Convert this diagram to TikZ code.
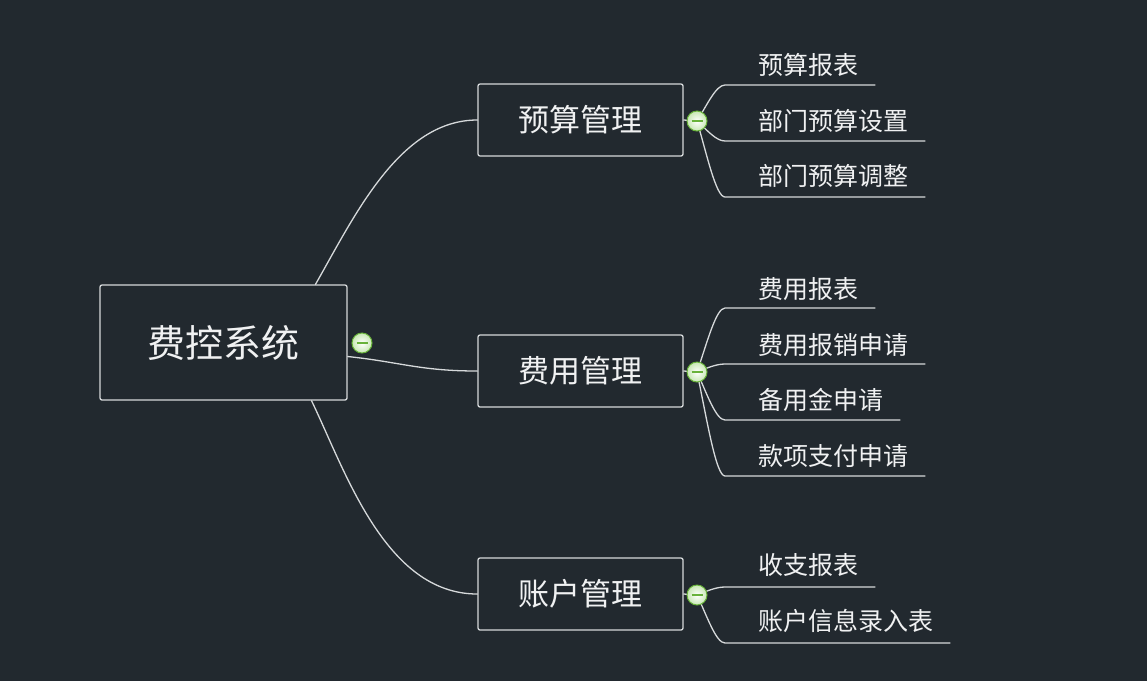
\documentclass[tikz,border=0pt]{standalone}
\usepackage{fontspec}
\newfontfamily\cjk{Noto Sans CJK SC}
\definecolor{bgc}{RGB}{34,41,47}
\definecolor{ln}{RGB}{214,217,219}
\definecolor{tx}{RGB}{240,241,242}
\definecolor{btngreen}{RGB}{104,178,58}
\definecolor{btnmid}{RGB}{200,232,180}
\pgfdeclarelayer{back}
\pgfdeclarelayer{lines}
\pgfsetlayers{back,lines,main}
\begin{document}
\begin{tikzpicture}[x=1pt,y=-1pt,
  conn/.style={draw=ln, line width=1.3pt, line cap=round, line join=round},
  rootbox/.style={draw=ln, fill=bgc, line width=1.3pt, rounded corners=2pt,
    minimum width=247pt, minimum height=115pt, inner sep=0pt, text=tx,
    font=\cjk\fontsize{38}{42}\selectfont},
  branchbox/.style={draw=ln, fill=bgc, line width=1.3pt, rounded corners=2pt,
    minimum width=205pt, minimum height=72pt, inner sep=0pt, text=tx,
    font=\cjk\fontsize{31}{34}\selectfont},
  leaf/.style={anchor=west, inner sep=0pt, text=tx,
    font=\cjk\fontsize{25}{28}\selectfont},
  toggle/.style={circle, draw=btngreen, line width=1pt, minimum size=20pt,
    inner sep=0pt, inner color=white, outer color=btnmid,
    path picture={\draw[btngreen, line width=1.2pt]
      ([xshift=-5.5pt]path picture bounding box.center) --
      ([xshift=5.5pt]path picture bounding box.center);}}
]
\begin{pgfonlayer}{back}
  \fill[bgc] (0,0) rectangle (1147,681);
\end{pgfonlayer}
\useasboundingbox (0,0) rectangle (1147,681);

% main nodes
\node[rootbox] (root) at (223.5,342.5) {费控系统};
\node[toggle] (t0) at (362,343) {};

\node[branchbox] (b1) at (580.5,120) {预算管理};
\node[branchbox] (b2) at (580.5,371) {费用管理};
\node[branchbox] (b3) at (580.5,594) {账户管理};

\node[toggle] (t1) at (697,121) {};
\node[toggle] (t2) at (697,372) {};
\node[toggle] (t3) at (697,595) {};

% leaves
\node[leaf] (l1) at (758,65) {预算报表};
\node[leaf] (l2) at (758,121) {部门预算设置};
\node[leaf] (l3) at (758,176) {部门预算调整};
\node[leaf] (l4) at (758,289) {费用报表};
\node[leaf] (l5) at (758,345) {费用报销申请};
\node[leaf] (l6) at (758,400) {备用金申请};
\node[leaf] (l7) at (758,456) {款项支付申请};
\node[leaf] (l8) at (758,565) {收支报表};
\node[leaf] (l9) at (758,621) {账户信息录入表};

\coordinate (l1s) at (725,85);  \coordinate (l1e) at (875,85);
\coordinate (l2s) at (725,141); \coordinate (l2e) at (925,141);
\coordinate (l3s) at (725,197); \coordinate (l3e) at (925,197);
\coordinate (l4s) at (725,308); \coordinate (l4e) at (875,308);
\coordinate (l5s) at (725,364); \coordinate (l5e) at (925,364);
\coordinate (l6s) at (725,420); \coordinate (l6e) at (900,420);
\coordinate (l7s) at (725,476); \coordinate (l7e) at (925,476);
\coordinate (l8s) at (725,587); \coordinate (l8e) at (875,587);
\coordinate (l9s) at (725,643); \coordinate (l9e) at (950,643);

\begin{pgfonlayer}{lines}
  % root to branches
  \draw[conn] ([xshift=92pt]root.north) .. controls (355,215) and (400,120) .. (b1.west);
  \draw[conn] ([yshift=-14pt]root.east) .. controls (400,362) and (420,371) .. (b2.west);
  \draw[conn] ([xshift=88pt]root.south) .. controls (345,470) and (385,594) .. (b3.west);
  % branch to toggle
  \draw[conn] (b1.east) -- (t1.center);
  \draw[conn] (b2.east) -- (t2.center);
  \draw[conn] (b3.east) -- (t3.center);
  % toggle to leaves
  \draw[conn] (t1.center) .. controls (707,105) and (716,85)  .. (l1s) -- (l1e);
  \draw[conn] (t1.center) .. controls (707,130) and (716,141) .. (l2s) -- (l2e);
  \draw[conn] (t1.center) .. controls (707,155) and (716,197) .. (l3s) -- (l3e);
  \draw[conn] (t2.center) .. controls (707,343) and (716,308) .. (l4s) -- (l4e);
  \draw[conn] (t2.center) .. controls (707,368) and (716,364) .. (l5s) -- (l5e);
  \draw[conn] (t2.center) .. controls (707,394) and (716,420) .. (l6s) -- (l6e);
  \draw[conn] (t2.center) .. controls (707,420) and (716,476) .. (l7s) -- (l7e);
  \draw[conn] (t3.center) .. controls (707,591) and (716,587) .. (l8s) -- (l8e);
  \draw[conn] (t3.center) .. controls (707,616) and (716,643) .. (l9s) -- (l9e);
\end{pgfonlayer}
\end{tikzpicture}
\end{document}
